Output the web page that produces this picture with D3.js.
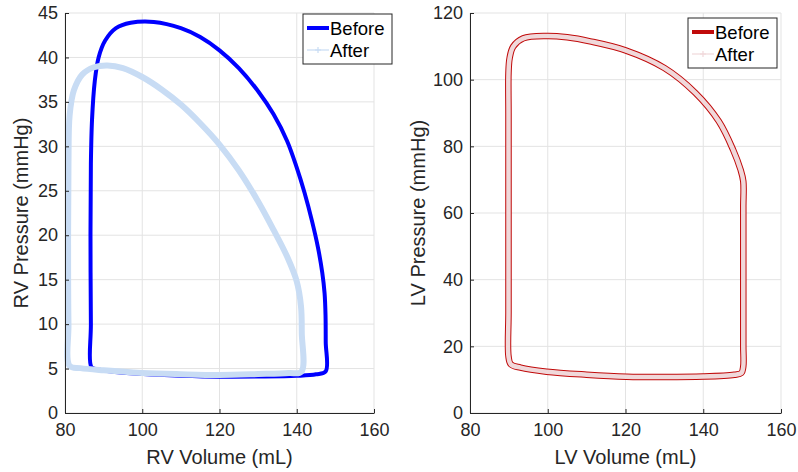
<!DOCTYPE html>
<html>
<head>
<meta charset="utf-8">
<script src="https://cdn.jsdelivr.net/npm/d3@7"></script>
<style>
  body { margin: 0; background: #fff; }
  svg { display: block; font-family: "Liberation Sans", Arial, sans-serif; }
</style>
</head>
<body>
<div id="chart"></div>
<script>
// RV pressure-volume loops, [volume mL, pressure mmHg]
const rvBefore = [
  [86.8, 5.2], [86.7, 10], [86.6, 20], [86.7, 28], [87.0, 33], [87.7, 37.3], [88.7, 40.0],
  [90.4, 41.9], [93.2, 43.3], [97, 43.9], [103, 44.0], [110, 43.3], [115, 42.3], [120, 40.8],
  [125, 38.8], [130, 36.2], [134, 33.6], [137.5, 30.6], [140, 27.6], [142, 24.8],
  [144, 21.5], [145.5, 18.6], [146.6, 15.8], [147.2, 13.5], [147.45, 11], [147.5, 8],
  [147.5, 4.7], [145, 4.35], [140, 4.18], [130, 4.1], [120, 4.09], [110, 4.2], [100.3, 4.38],
  [93, 4.62], [88, 4.95]
];
const rvAfter = [
  [81.2, 5.3], [80.9, 10], [80.8, 20], [80.9, 28], [81.2, 33.5], [82.3, 36.3], [84.5, 38.1],
  [87.5, 38.9], [91, 39.1], [95, 38.8], [100, 37.8], [105, 36.4], [110, 34.7], [115, 32.6],
  [120, 30.2], [125, 27.3], [130, 23.8], [134, 20.6], [137.5, 17.6], [140, 14.8],
  [141.1, 12], [141.3, 9], [141.2, 4.65], [138, 4.5], [130, 4.38], [120, 4.28], [110, 4.36],
  [100, 4.5], [90, 4.8], [84, 5.05]
];
// LV loops
const lvBefore = [
  [89.9, 17], [89.9, 30], [89.9, 45], [89.9, 60], [89.9, 75], [89.9, 90], [89.9, 102],
  [90.2, 106.5], [91.1, 109.9], [93.7, 112.4], [99.7, 113.1], [105, 112.7], [110.9, 111.5],
  [120, 108.8], [130, 103.5], [138, 96], [144, 87.5], [147.7, 78.9], [149.6, 73],
  [150.3, 69.5], [150.3, 62], [150.3, 50], [150.3, 40], [150.3, 30], [150.3, 20],
  [150.3, 14], [149.8, 12.0], [148, 11.5], [140, 10.95], [130, 10.8], [120.3, 10.9],
  [110, 11.5], [99.7, 12.4], [93, 13.6], [90.5, 14.6]
];
const lvAfter = lvBefore.map(d => d.slice());

const xTicks = [80, 100, 120, 140, 160];
const rvTicks = [0, 5, 10, 15, 20, 25, 30, 35, 40, 45];
const lvTicks = [0, 20, 40, 60, 80, 100, 120];
const seriesNames = ['Before', 'After'];

const W = 798, H = 472;
const svg = d3.select('#chart').append('svg')
  .attr('width', W).attr('height', H);

function drawPanel(opt) {
  const x = d3.scaleLinear().domain([80, 160]).range([opt.left, opt.right]);
  const y = d3.scaleLinear().domain(opt.yDomain).range([413, 13]);
  const g = svg.append('g');

  // grid
  g.selectAll('line.gx').data(xTicks).enter().append('line')
    .attr('x1', d => x(d)).attr('x2', d => x(d)).attr('y1', 13).attr('y2', 413)
    .attr('stroke', '#e3e3e3').attr('stroke-width', 1);
  g.selectAll('line.gy').data(opt.yTicks).enter().append('line')
    .attr('x1', opt.left).attr('x2', opt.right).attr('y1', d => y(d)).attr('y2', d => y(d))
    .attr('stroke', '#e3e3e3').attr('stroke-width', 1);

  const line = d3.line().x(d => x(d[0])).y(d => y(d[1])).curve(d3.curveCatmullRomClosed.alpha(0.5));

  g.append('path').datum(opt.before).attr('d', line)
    .attr('fill', 'none').attr('stroke', opt.colors[0]).attr('stroke-width', opt.widths[0])
    .attr('stroke-linejoin', 'round');
  g.append('path').datum(opt.after).attr('d', line)
    .attr('fill', 'none').attr('stroke', opt.colors[1]).attr('stroke-width', opt.widths[1])
    .attr('stroke-linejoin', 'round');

  // axes
  const xAxis = g.append('g').attr('transform', 'translate(0,413)')
    .call(d3.axisBottom(x).tickValues(xTicks).tickSizeInner(-4).tickSizeOuter(0).tickPadding(10));
  const yAxis = g.append('g').attr('transform', `translate(${opt.left},0)`)
    .call(d3.axisLeft(y).tickValues(opt.yTicks).tickSizeInner(-4).tickSizeOuter(0).tickPadding(7));
  [xAxis, yAxis].forEach(a => {
    a.select('.domain').attr('stroke', '#262626');
    a.selectAll('.tick line').attr('stroke', '#262626');
    a.selectAll('.tick text').attr('fill', '#262626').attr('font-size', 18)
      .attr('font-family', '"Liberation Sans", Arial, sans-serif');
  });

  g.append('text')
    .attr('x', (opt.left + opt.right) / 2).attr('y', 464)
    .attr('text-anchor', 'middle').attr('font-size', 20).attr('fill', '#262626')
    .text(opt.xLabel);
  g.append('text')
    .attr('transform', `translate(${opt.left - opt.yLabelGap},213) rotate(-90)`)
    .attr('text-anchor', 'middle').attr('font-size', 20).attr('fill', '#262626')
    .text(opt.yLabel);

  // legend
  const lg = g.append('g').attr('transform', `translate(${opt.legendX},${opt.legendY})`);
  lg.append('rect').attr('width', 89).attr('height', 50)
    .attr('fill', '#fff').attr('stroke', '#262626').attr('stroke-width', 1);
  seriesNames.forEach((name, i) => {
    const yy = 14 + i * 22;
    lg.append('line').attr('x1', 4).attr('x2', 26).attr('y1', yy).attr('y2', yy)
      .attr('stroke', opt.colors[i]).attr('stroke-width', i === 0 ? 4 : 1.2);
    if (i === 1) {
      lg.append('path').attr('d', `M12,${yy} h6 M15,${yy - 3} v6`)
        .attr('stroke', opt.colors[1]).attr('stroke-width', 1.2);
    }
    lg.append('text').attr('x', 27).attr('y', yy + 6.5)
      .attr('font-size', 18.5).attr('fill', '#000').text(name);
  });
}

drawPanel({
  left: 65, right: 374, yDomain: [0, 45], yTicks: rvTicks,
  before: rvBefore, after: rvAfter,
  colors: ['#0000ff', '#c8dcf4'], widths: [4, 6],
  xLabel: 'RV Volume (mL)', yLabel: 'RV Pressure (mmHg)', yLabelGap: 37,
  legendX: 303, legendY: 14
});
drawPanel({
  left: 470, right: 781, yDomain: [0, 120], yTicks: lvTicks,
  before: lvBefore, after: lvAfter,
  colors: ['#c00a0a', '#f0d8da'], widths: [6.5, 4.5],
  xLabel: 'LV Volume (mL)', yLabel: 'LV Pressure (mmHg)', yLabelGap: 45,
  legendX: 688, legendY: 18
});
</script>
</body>
</html>
